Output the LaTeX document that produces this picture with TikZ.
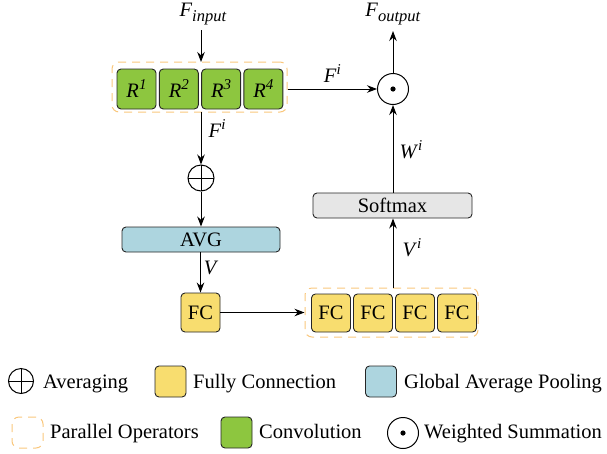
\documentclass[tikz,border=0pt]{standalone}
\usepackage{fontspec}
\setmainfont{LiberationSerif}[Extension=.ttf, UprightFont=*-Regular, ItalicFont=*-Italic, BoldFont=*-Bold, BoldItalicFont=*-BoldItalic]
\usetikzlibrary{arrows.meta}
\definecolor{convgreen}{HTML}{8DC63F}
\definecolor{fcyellow}{HTML}{F8DD6F}
\definecolor{avgblue}{HTML}{ADD5DF}
\definecolor{smgray}{HTML}{E6E6E6}
\definecolor{dashorange}{HTML}{F9C77D}
\newcommand{\mytxt}{\fontsize{20.5}{24}\selectfont}
\newcommand{\mysup}[1]{\raisebox{8pt}{\fontsize{15}{15}\selectfont\textit{#1}}}
\newcommand{\mysub}[1]{\raisebox{-4.5pt}{\fontsize{16.5}{16.5}\selectfont\textit{#1}}}
\newcommand{\vsym}[2]{\textit{#1}\mysup{#2}}
\tikzset{
  base/.style={draw=black!85, line width=0.9pt, rounded corners=4pt, inner sep=0pt, font=\mytxt},
  rbox/.style={base, fill=convgreen, minimum width=39pt, minimum height=40pt},
  fcbox/.style={base, fill=fcyellow, minimum width=39pt, minimum height=39pt},
  parbox/.style={draw=dashorange, line width=1pt, dash pattern=on 8pt off 6pt, rounded corners=7pt, inner sep=0pt},
  lbl/.style={font=\mytxt, inner sep=0pt},
  arr/.style={-{Stealth[length=10pt,width=7.5pt]}, line width=1pt},
  oplusnode/.style={circle, draw, line width=1pt, minimum size=26pt, inner sep=0pt,
    path picture={\draw[line width=1pt] (path picture bounding box.north) -- (path picture bounding box.south)
      (path picture bounding box.west) -- (path picture bounding box.east);}},
  odotnode/.style={circle, draw, line width=1pt, minimum size=31pt, inner sep=0pt,
    path picture={\fill (path picture bounding box.center) circle (2.6pt);}},
  legbox/.style={base, minimum width=31pt, minimum height=31pt},
}
\begin{document}
\begin{tikzpicture}[x=1pt,y=-1pt]
\useasboundingbox (0,0) rectangle (607,453);
% top-left branch
\node[lbl] (fin) at (203,14) {\textit{F}\mysub{input}};
\node[parbox, minimum width=175pt, minimum height=50pt] (rpar) at (199.5,87) {};
\node[rbox] (r1) at (136.5,89) {\vsym{R}{1}};
\node[rbox] (r2) at (178.8,89) {\vsym{R}{2}};
\node[rbox] (r3) at (221.1,89) {\vsym{R}{3}};
\node[rbox] (r4) at (263.4,89) {\vsym{R}{4}};
\coordinate (fintop) at (201,30);
\coordinate (rtop) at (201,62);
\draw[arr] (fintop) -- (rtop);
% odot
\node[odotnode] (odot) at (393,89) {};
\node[lbl] (fout) at (393,14) {\textit{F}\mysub{output}};
\coordinate (fouttop) at (393,31);
\draw[arr] (odot.north) -- (fouttop);
\draw[arr] (rpar.east |- odot) -- (odot.west) node[lbl, midway, above=6pt] (fi1) {\vsym{F}{i}};
% softmax
\node[base, fill=smgray, minimum width=159pt, minimum height=25pt] (soft) at (392.5,205.5) {Softmax};
\draw[arr] (soft.north -| odot) -- (odot.south);
\node[lbl] (wi) at (411,150) {\vsym{W}{i}};
% left chain
\node[oplusnode] (oplus) at (201,178) {};
\coordinate (rbot) at (201,112);
\draw[arr] (rbot) -- (oplus.north);
\node[lbl] (fi2) at (217,129) {\vsym{F}{i}};
\node[base, fill=avgblue, minimum width=158pt, minimum height=25pt] (avg) at (201,239.5) {AVG};
\draw[arr] (oplus.south) -- (avg.north);
\node[fcbox] (fc0) at (200.5,312.5) {FC};
\draw[arr] (avg.south -| fc0) -- (fc0.north);
\node[lbl] (vlab) at (211,268) {\textit{V}};
% FC group
\node[parbox, minimum width=173pt, minimum height=49pt] (fcpar) at (391.5,312.5) {};
\node[fcbox, minimum height=38pt] (fc1) at (331,313) {FC};
\node[fcbox, minimum height=38pt] (fc2) at (373,313) {FC};
\node[fcbox, minimum height=38pt] (fc3) at (415,313) {FC};
\node[fcbox, minimum height=38pt] (fc4) at (457,313) {FC};
\draw[arr] (fc0.east) -- (fc0.east -| fcpar.west);
\draw[arr] (fcpar.north -| odot) -- (soft.south -| odot);
\node[lbl] (vi) at (412,248) {\vsym{V}{i}};
% legend
\node[oplusnode, minimum size=25pt] (lg1) at (21,381) {};
\node[lbl, anchor=base west] (lt1) at (43,388) {Averaging};
\node[legbox, fill=fcyellow] (lg2) at (170.5,381.5) {};
\node[lbl, anchor=base west] (lt2) at (193,388) {Fully Connection};
\node[legbox, fill=avgblue] (lg3) at (381,381.5) {};
\node[lbl, anchor=base west] (lt3) at (404,388) {Global Average Pooling};
\node[parbox, minimum width=31pt, minimum height=31pt] (lg4) at (27.5,432.5) {};
\node[lbl, anchor=base west] (lt4) at (50,438) {Parallel Operators};
\node[legbox, fill=convgreen] (lg5) at (236.5,432.5) {};
\node[lbl, anchor=base west] (lt5) at (259,438) {Convolution};
\node[odotnode] (lg6) at (403,433) {};
\node[lbl, anchor=base west] (lt6) at (424,438) {Weighted Summation};
\end{tikzpicture}
\end{document}
